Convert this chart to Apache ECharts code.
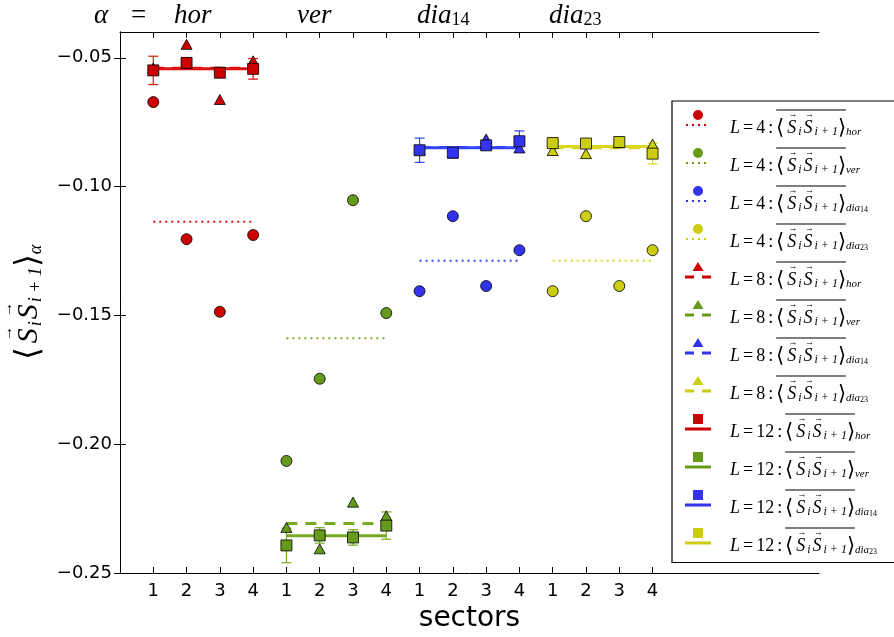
<!DOCTYPE html>
<html>
<head>
<meta charset="utf-8">
<script src="https://cdn.jsdelivr.net/npm/echarts@6/dist/echarts.min.js"></script>
<style>
html, body { margin: 0; padding: 0; background: #fff; }
#chart { width: 894px; height: 637px; }
</style>
</head>
<body>
<div id="chart"></div>
<script>
var groups = ['hor', 'ver', 'dia14', 'dia23'];
var sectors = ['1', '2', '3', '4'];
var yTicks = [-0.25, -0.20, -0.15, -0.10, -0.05];

// L = 4 : circles, rows = hor, ver, dia14, dia23
var l4Vals = [
    [-0.0672, -0.1204, -0.1486, -0.1188],
    [-0.2065, -0.1746, -0.1053, -0.1491],
    [-0.1406, -0.1115, -0.1386, -0.1247],
    [-0.1406, -0.1115, -0.1386, -0.1247]
];
var l4Mean = [-0.1137, -0.1589, -0.1288, -0.1288];

// L = 8 : triangles
var l8Vals = [
    [-0.0540, -0.0448, -0.0662, -0.0512],
    [-0.2323, -0.2406, -0.2225, -0.2278],
    [-0.0858, -0.0870, -0.0815, -0.0850],
    [-0.0860, -0.0872, -0.0830, -0.0835]
];
var l8Mean = [-0.0541, -0.2308, -0.0848, -0.0849];

// L = 12 : squares with error bars
var l12Vals = [
    [-0.0549, -0.0520, -0.0558, -0.0543],
    [-0.2393, -0.2354, -0.2362, -0.2316],
    [-0.0859, -0.0868, -0.0840, -0.0824],
    [-0.0831, -0.0833, -0.0827, -0.0872]
];
var l12Err = [
    [0.0055, 0.0020, 0.0015, 0.0040],
    [0.0067, 0.0030, 0.0030, 0.0053],
    [0.0047, 0.0020, 0.0015, 0.0040],
    [0.0015, 0.0015, 0.0015, 0.0040]
];
var l12Mean = [-0.0543, -0.2355, -0.0849, -0.0844];

var fillColors = ['#cc0000', '#669a1a', '#3333ee', '#cccc11'];
var lineColors = ['#dd1111', '#77aa22', '#3344ff', '#d8d820'];

var chart = echarts.init(document.getElementById('chart'));
var serif = 'Liberation Serif';
var tickFont = 'DejaVu Sans';

// text width helper (same canvas measuring as zrender)
var mctx = document.createElement('canvas').getContext('2d');
function textW(font, s) { mctx.font = font; return mctx.measureText(s).width; }

// legend icons: marker on top, line style below (box 26 x 30)
var markerPath = {
    circle: 'M18 7A5 5 0 1 1 8 7A5 5 0 1 1 18 7Z',
    triangle: 'M13 2L18.5 11L7.5 11Z',
    rect: 'M8 2H18V12H8Z'
};
var linePath = {
    dotted: 'M1 16h2v2h-2Z M7 16h2v2h-2Z M13 16h2v2h-2Z M19 16h2v2h-2Z',
    dashed: 'M0 15.5h9v3h-9Z M17 15.5h9v3h-9Z',
    solid: 'M0 15.5h26v3h-26Z'
};
var iconFrame = 'M0 0h0.05v0.05h-0.05Z M25.95 29.95h0.05v0.05h-0.05Z';

var sets = [
    {L: 4, vals: l4Vals, mean: l4Mean, symbol: 'circle', lineKind: 'dotted', dash: [2, 4], width: 2},
    {L: 8, vals: l8Vals, mean: l8Mean, symbol: 'triangle', lineKind: 'dashed', dash: [11, 8], width: 3},
    {L: 12, vals: l12Vals, mean: l12Mean, symbol: 'rect', lineKind: 'solid', dash: 'solid', width: 3}
];

function errRenderer(color) {
    return function (params, api) {
        var x = api.value(0), v = api.value(1), e = api.value(2);
        var hi = api.coord([x, v + e]);
        var lo = api.coord([x, v - e]);
        var st = {stroke: color, lineWidth: 1.2};
        return {
            type: 'group',
            children: [
                {type: 'line', shape: {x1: hi[0], y1: hi[1], x2: lo[0], y2: lo[1]}, style: st},
                {type: 'line', shape: {x1: hi[0] - 5, y1: hi[1], x2: hi[0] + 5, y2: hi[1]}, style: st},
                {type: 'line', shape: {x1: lo[0] - 5, y1: lo[1], x2: lo[0] + 5, y2: lo[1]}, style: st}
            ]
        };
    };
}

var series = [];
var legendData = [];
sets.forEach(function (s) {
    groups.forEach(function (g, gi) {
        var name = 'L=' + s.L + ' ' + g;
        var pts = s.vals[gi].map(function (v, i) { return [gi * 4 + i + 1, v]; });
        legendData.push({
            name: name,
            icon: 'path://' + markerPath[s.symbol] + ' ' + linePath[s.lineKind] + ' ' + iconFrame,
            itemStyle: {color: fillColors[gi], borderWidth: 0, opacity: 1}
        });
        series.push({
            type: 'scatter',
            name: name,
            data: pts,
            symbol: s.symbol,
            symbolSize: s.symbol === 'triangle' ? [11, 10] : 11,
            itemStyle: {color: fillColors[gi], borderColor: '#000', borderWidth: 0.8, opacity: 1},
            z: 3
        });
        if (s.L === 12) {
            series.push({
                type: 'custom',
                name: name,
                renderItem: errRenderer(lineColors[gi]),
                data: s.vals[gi].map(function (v, i) { return [gi * 4 + i + 1, v, l12Err[gi][i]]; }),
                z: 2
            });
        }
        series.push({
            type: 'line',
            name: name,
            data: [[gi * 4 + 1, s.mean[gi]], [gi * 4 + 4, s.mean[gi]]],
            symbol: 'none',
            lineStyle: {color: lineColors[gi], width: s.width, type: s.dash},
            z: 2
        });
    });
});

// rich-text pieces for <S_i S_i+1>; every visible token has a transparent twin
// (prefix p) used to push the arrow line and the overline into place.
// All tokens are left-aligned; the S slot and the arrow slot get the same width via padding.
function richSet(fs, subFs, slot, spacerLh) {
    var arFs = Math.round(fs * 0.5);
    var sw = textW('italic ' + fs + 'px "' + serif + '"', 'S');
    var aw = textW(arFs + 'px "' + serif + '"', '\u2192');
    var sPadL = (slot - sw) / 2;
    var aPadL = (slot - aw) / 2 + fs * 0.08;
    var base = {
        it: {fontFamily: serif, fontStyle: 'italic', fontSize: fs},
        eq: {fontFamily: serif, fontSize: fs, padding: [0, 3, 0, 3]},
        rm: {fontFamily: serif, fontSize: fs},
        lb: {fontFamily: serif, fontSize: fs + 3, width: slot - 4},
        S: {fontFamily: serif, fontStyle: 'italic', fontSize: fs, padding: [0, slot - sw - sPadL, 0, sPadL]},
        si: {fontFamily: serif, fontStyle: 'italic', fontSize: subFs, verticalAlign: 'bottom'},
        rb: {fontFamily: serif, fontSize: fs + 3}
    };
    var rich = {};
    Object.keys(base).forEach(function (k) {
        rich[k] = Object.assign({color: '#000', lineHeight: fs + 2, align: 'left'}, base[k]);
        rich['p' + k] = Object.assign({align: 'left'}, base[k], {color: 'rgba(0,0,0,0)', lineHeight: spacerLh});
    });
    rich.si.lineHeight = subFs + 2;
    rich.ar = {fontFamily: serif, fontSize: arFs, color: '#000', align: 'left',
               padding: [0, slot - aw - aPadL, 0, aPadL], lineHeight: spacerLh + 2};
    var w = textW((fs + 3) + 'px "' + serif + '"', '\u27e9');
    rich.ovWidth = slot * 3 - 4 + textW('italic ' + subFs + 'px "' + serif + '"', 'ii + 1') + w;
    return rich;
}
var bracketMain = '{lb|\u27e8}{S|S}{si|i}{S|S}{si|i + 1}{rb|\u27e9}';
var bracketArrows = '{plb|\u27e8}{ar|\u2192}{psi|i}{ar|\u2192}';

var legendRich = richSet(18, 12, 13, 4);
legendRich.ov = {width: legendRich.ovWidth, height: 1, backgroundColor: '#000', lineHeight: 4, align: 'left'};
legendRich.sub = {fontFamily: serif, fontStyle: 'italic', fontSize: 11, color: '#000', verticalAlign: 'bottom', lineHeight: 11, align: 'left'};
legendRich.sub2 = {fontFamily: serif, fontSize: 8, color: '#000', verticalAlign: 'bottom', lineHeight: 8, align: 'left'};
delete legendRich.ovWidth;

var yRich = richSet(30, 18, 19, 8);
delete yRich.ovWidth;

function legendText(name) {
    var p = name.split(' ');
    var lab = p[0].slice(2);
    var g = p[1];
    var subs = g.indexOf('dia') === 0
        ? '{sub|dia}{sub2|' + g.slice(3) + '}'
        : '{sub|' + g + '}';
    var spacer = '{pit|L}{peq|=}{prm|' + lab + '}{peq|:}';
    return spacer + '{ov| }\n' +
        spacer + bracketArrows + '\n' +
        '{it|L}{eq|=}{rm|' + lab + '}{eq|:}' + bracketMain + subs;
}

var xTickVals = [];
for (var t = 1; t <= 16; t++) xTickVals.push(t);

var option = {
    animation: false,
    backgroundColor: '#fff',
    grid: {left: 120, right: 75, top: 32, bottom: 64, outerBoundsMode: 'none', containLabel: false},
    xAxis: [{
        type: 'value', min: 0, max: 21,
        name: 'sectors', nameLocation: 'middle', nameGap: 28,
        nameTextStyle: {fontFamily: tickFont, fontSize: 28, color: '#000'},
        axisLine: {lineStyle: {color: '#000', width: 1}},
        axisTick: {inside: true, length: 6, customValues: xTickVals, lineStyle: {color: '#000'}},
        axisLabel: {
            customValues: xTickVals, margin: 9,
            fontFamily: tickFont, fontSize: 18, color: '#000',
            formatter: function (v) { return sectors[(v - 1) % 4]; }
        },
        splitLine: {show: false}
    }, {
        type: 'value', min: 0, max: 21, position: 'top',
        axisLine: {lineStyle: {color: '#000', width: 1}},
        axisTick: {inside: true, length: 6, customValues: xTickVals, lineStyle: {color: '#000'}},
        axisLabel: {show: false},
        splitLine: {show: false}
    }],
    yAxis: [{
        type: 'value', min: -0.25, max: -0.04,
        name: bracketArrows + '\n' + bracketMain + '{si|\u03b1}',
        nameLocation: 'middle', nameGap: 73, nameRotate: 90,
        nameTextStyle: {align: 'center', rich: yRich},
        axisLine: {show: true, lineStyle: {color: '#000', width: 1}},
        axisTick: {inside: true, length: 6, customValues: yTicks, lineStyle: {color: '#000'}},
        axisLabel: {
            customValues: yTicks, margin: 8,
            fontFamily: tickFont, fontSize: 18, color: '#000',
            formatter: function (v) { return v.toFixed(2).replace('-', '\u2212'); }
        },
        splitLine: {show: false}
    }, {
        type: 'value', min: -0.25, max: -0.04, position: 'right',
        axisLine: {show: true, lineStyle: {color: '#000', width: 1}},
        axisTick: {inside: true, length: 6, customValues: yTicks, lineStyle: {color: '#000'}},
        axisLabel: {show: false},
        splitLine: {show: false}
    }],
    legend: {
        orient: 'vertical',
        left: 672, top: 101,
        padding: [0, 40, 6, 13],
        itemWidth: 26, itemHeight: 30,
        itemGap: 0.5,
        itemTextGap: 5,
        selectedMode: false,
        backgroundColor: '#fff',
        borderColor: '#000', borderWidth: 1.2,
        data: legendData,
        formatter: legendText,
        textStyle: {padding: [0, 0, 0, 14], rich: legendRich}
    },
    graphic: [
        {type: 'text', left: 94, top: 2, style: {text: '\u03b1', font: 'italic 27px "Liberation Serif"', fill: '#000'}},
        {type: 'text', left: 131, top: 2, style: {text: '=', font: '27px "Liberation Serif"', fill: '#000'}},
        {type: 'text', left: 174, top: 2, style: {text: 'hor', font: 'italic 27px "Liberation Serif"', fill: '#000'}},
        {type: 'text', left: 297, top: 2, style: {text: 'ver', font: 'italic 27px "Liberation Serif"', fill: '#000'}},
        {type: 'text', left: 417, top: 2, style: {
            text: '{a|dia}{b|14}',
            rich: {a: {fontFamily: serif, fontStyle: 'italic', fontSize: 27, fill: '#000'},
                   b: {fontFamily: serif, fontSize: 18, fill: '#000', verticalAlign: 'bottom'}}
        }},
        {type: 'text', left: 549, top: 2, style: {
            text: '{a|dia}{b|23}',
            rich: {a: {fontFamily: serif, fontStyle: 'italic', fontSize: 27, fill: '#000'},
                   b: {fontFamily: serif, fontSize: 18, fill: '#000', verticalAlign: 'bottom'}}
        }}
    ],
    series: series
};
chart.setOption(option);
</script>
</body>
</html>
